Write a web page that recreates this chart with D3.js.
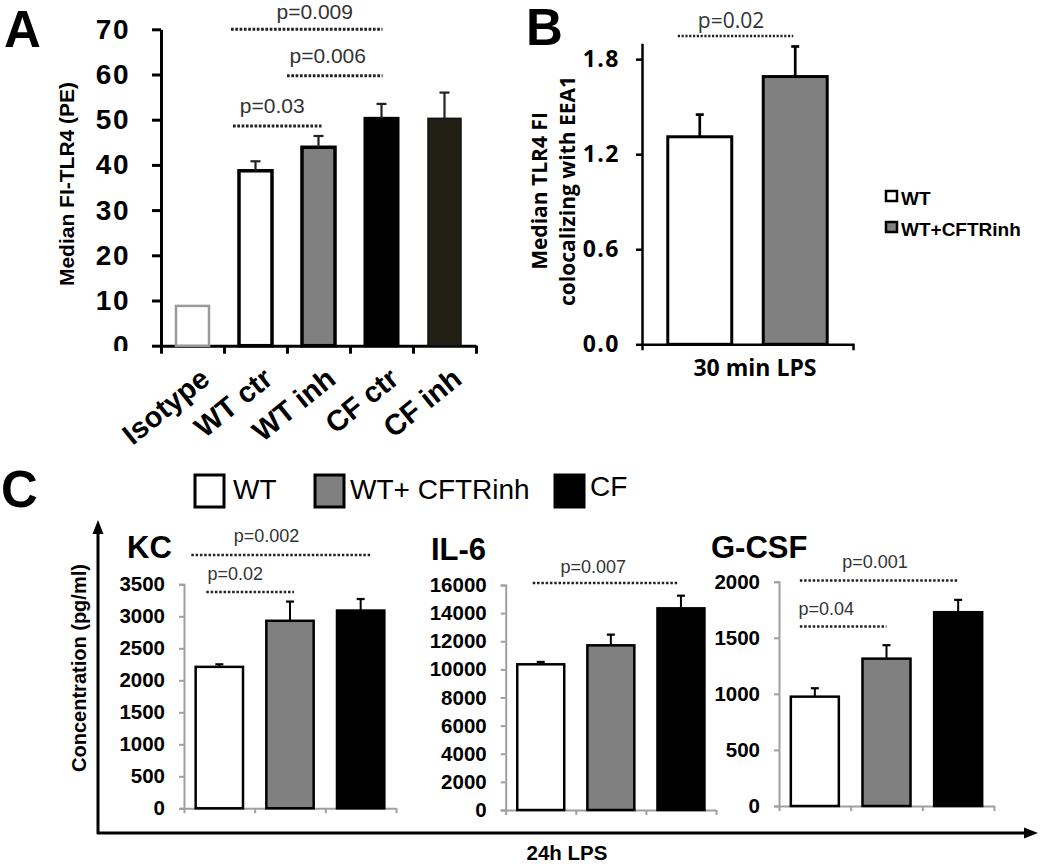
<!DOCTYPE html>
<html>
<head>
<meta charset="utf-8">
<script src="https://cdn.jsdelivr.net/npm/d3@7"></script>
<style>
body { margin: 0; background: #fff; }
svg { display: block; }
</style>
</head>
<body>
<svg id="fig" width="1050" height="867"></svg>
<script>
// ---- panel A : median FI-TLR4 ----
const aCategories = ["Isotype", "WT ctr", "WT inh", "CF ctr", "CF inh"];
const aValues = [8.8, 38.7, 43.9, 50.3, 50.3];
const aErrors = [0, 2.1, 2.5, 3.2, 5.7];
const aTicks = [0, 10, 20, 30, 40, 50, 60, 70];
const aSigLabels = ["p=0.009", "p=0.006", "p=0.03"];
const aSigPairs = [["WT ctr", "CF ctr"], ["WT inh", "CF ctr"], ["WT ctr", "WT inh"]];

// ---- panel B : TLR4 colocalizing with EEA1 ----
const bGroups = ["WT", "WT+CFTRinh"];
const bValues = [1.31, 1.69];
const bErrors = [0.14, 0.19];
const bTicks = [0, 0.6, 1.2, 1.8];

// ---- panel C : cytokines 24h LPS ----
const cGroups = ["WT", "WT+ CFTRinh", "CF"];
const cCytokines = ["KC", "IL-6", "G-CSF"];
const kcValues = [2210, 2930, 3090];
const kcErrors = [40, 300, 180];
const kcTicks = [0, 500, 1000, 1500, 2000, 2500, 3000, 3500];
const il6Values = [10360, 11710, 14340];
const il6Errors = [170, 760, 900];
const il6Ticks = [0, 2000, 4000, 6000, 8000, 10000, 12000, 14000, 16000];
const gcsfValues = [975, 1314, 1728];
const gcsfErrors = [75, 120, 110];
const gcsfTicks = [0, 500, 1000, 1500, 2000];
const kcSig = [{label: "p=0.002", pair: [0, 2]}, {label: "p=0.02", pair: [0, 1]}];
const il6Sig = [{label: "p=0.007", pair: [0, 2]}];
const gcsfSig = [{label: "p=0.001", pair: [0, 2]}, {label: "p=0.04", pair: [0, 1]}];

const ARIAL = "'Liberation Sans', Arial, sans-serif";
const OPEN = "'Open Sans', sans-serif";
const svg = d3.select("#fig");

function styleAxis(g, color, width, font, size, weight) {
    g.select(".domain").attr("stroke", color).attr("stroke-width", width);
    g.selectAll(".tick line").attr("stroke", color).attr("stroke-width", width);
    g.selectAll(".tick text").attr("fill", "#000").attr("font-family", font)
        .attr("font-size", size).attr("font-weight", weight);
}

function dotted(g, x0, x1, y, w, dash) {
    g.append("line").attr("x1", x0).attr("x2", x1).attr("y1", y).attr("y2", y)
        .attr("stroke", "#222").attr("stroke-width", w).attr("stroke-dasharray", dash);
}

function panelLetter(t, x, y) {
    svg.append("text").attr("x", x).attr("y", y).text(t)
        .attr("font-family", ARIAL).attr("font-weight", "bold").attr("font-size", 51);
}

// ================= A =================
const gA = svg.append("g");
const aX = d3.scaleBand().domain(aCategories).range([161, 476]).paddingInner(0.476).paddingOuter(0.238);
const aY = d3.scaleLinear().domain([0, 70]).range([345.7, 29.3]);
const aFill = ["#fff", "#fff", "#808080", "#000", "#221f14"];
const aStroke = ["#9a9a9a", "#000", "#000", "#000", "#111"];
const aStrokeW = [2.5, 3.5, 3.5, 3, 1.5];

// the "0" label is cut off by the baseline in the original
svg.append("clipPath").attr("id", "clipA").append("rect")
    .attr("x", -200).attr("y", 0).attr("width", 400).attr("height", 351);

gA.append("g").attr("transform", "translate(161,0)").attr("clip-path", "url(#clipA)")
    .call(d3.axisLeft(aY).tickValues(aTicks).tickSize(9).tickPadding(22).tickSizeOuter(0))
    .call(g => styleAxis(g, "#000", 3, ARIAL, 28, "bold"))
    .call(g => g.selectAll(".tick text").attr("letter-spacing", 1.5));

gA.append("g").attr("transform", "translate(0,345.7)")
    .call(d3.axisBottom(d3.scaleLinear().domain([0, 5]).range([161, 476]))
        .tickValues([0, 1, 2, 3, 4, 5]).tickSize(8).tickSizeOuter(0).tickFormat(""))
    .call(g => styleAxis(g, "#000", 3, ARIAL, 10, "normal"));

gA.selectAll("rect.bar").data(aValues).join("rect").attr("class", "bar")
    .attr("x", (d, i) => aX(aCategories[i]))
    .attr("y", d => aY(d))
    .attr("width", aX.bandwidth())
    .attr("height", d => aY(0) - aY(d))
    .attr("fill", (d, i) => aFill[i])
    .attr("stroke", (d, i) => aStroke[i])
    .attr("stroke-width", (d, i) => aStrokeW[i]);

aValues.forEach((v, i) => {
    if (!aErrors[i]) return;
    const cx = aX(aCategories[i]) + aX.bandwidth() / 2;
    gA.append("line").attr("x1", cx).attr("x2", cx)
        .attr("y1", aY(v)).attr("y2", aY(v + aErrors[i])).attr("stroke", "#222").attr("stroke-width", 2.2);
    gA.append("line").attr("x1", cx - 5).attr("x2", cx + 5)
        .attr("y1", aY(v + aErrors[i])).attr("y2", aY(v + aErrors[i])).attr("stroke", "#222").attr("stroke-width", 2.2);
});

// x labels, slanted
aCategories.forEach(c => {
    gA.append("text")
        .attr("transform", `translate(${aX(c) + aX.bandwidth() / 2 + 19},382) rotate(-39)`)
        .attr("text-anchor", "end").text(c)
        .attr("font-family", ARIAL).attr("font-weight", "bold").attr("font-size", 29);
});

gA.append("text").attr("transform", "translate(74,184) rotate(-90)")
    .attr("text-anchor", "middle").text("Median FI-TLR4 (PE)")
    .attr("font-family", ARIAL).attr("font-weight", "bold").attr("font-size", 21);

// significance bars (y level, start offset from bar left, end offset from bar centre, text shift)
const aSigLayout = [
    {level: 70, dx0: -8, dx1: 1, tdx: 8, tdy: -10},
    {level: 59.7, dx0: -15, dx1: 1, tdx: -7, tdy: -13},
    {level: 48.6, dx0: -6, dx1: 3, tdx: -5, tdy: -13}
];
aSigLabels.forEach((lab, i) => {
    const L = aSigLayout[i];
    const x0 = aX(aSigPairs[i][0]) + L.dx0;
    const x1 = aX(aSigPairs[i][1]) + aX.bandwidth() / 2 + L.dx1;
    const y = aY(L.level);
    dotted(gA, x0, x1, y, 3, "2.7,1.6");
    gA.append("text").attr("x", (x0 + x1) / 2 + L.tdx).attr("y", y + L.tdy)
        .attr("text-anchor", "middle").text(lab).attr("fill", "#333")
        .attr("font-family", ARIAL).attr("font-size", 21);
});
panelLetter("A", 4, 47);

// ================= B =================
const gB = svg.append("g");
const bX = d3.scaleBand().domain(bGroups).range([642, 853]).paddingInner(0.33).paddingOuter(0.27);
const bY = d3.scaleLinear().domain([0, 1.9]).range([344.3, 43.3]);
const bFill = ["#fff", "#808080"];

gB.append("g").attr("transform", "translate(642,0)")
    .call(d3.axisLeft(bY).tickValues(bTicks).tickFormat(d3.format(".1f")).tickSize(6).tickPadding(16).tickSizeOuter(0))
    .call(g => styleAxis(g, "#000", 2.5, OPEN, 23, "bold"))
    .call(g => g.selectAll(".tick text").attr("letter-spacing", 1.5));
gB.append("g").attr("transform", "translate(0,344.3)")
    .call(d3.axisBottom(bX).tickSize(0).tickSizeOuter(6).tickFormat(""))
    .call(g => styleAxis(g, "#000", 2.5, OPEN, 10, "normal"));

gB.selectAll("rect.bar").data(bValues).join("rect").attr("class", "bar")
    .attr("x", (d, i) => bX(bGroups[i]))
    .attr("y", d => bY(d))
    .attr("width", bX.bandwidth())
    .attr("height", d => bY(0) - bY(d))
    .attr("fill", (d, i) => bFill[i])
    .attr("stroke", "#000").attr("stroke-width", 3);

bValues.forEach((v, i) => {
    const cx = bX(bGroups[i]) + bX.bandwidth() / 2;
    gB.append("line").attr("x1", cx).attr("x2", cx)
        .attr("y1", bY(v)).attr("y2", bY(v + bErrors[i])).attr("stroke", "#000").attr("stroke-width", 2.7);
    gB.append("line").attr("x1", cx - 4).attr("x2", cx + 4)
        .attr("y1", bY(v + bErrors[i])).attr("y2", bY(v + bErrors[i])).attr("stroke", "#000").attr("stroke-width", 2.7);
});

gB.append("text").attr("x", 755).attr("y", 376).attr("text-anchor", "middle")
    .text("30 min LPS").attr("font-family", OPEN).attr("font-weight", "bold").attr("font-size", 23);

const bLabel = gB.append("text").attr("transform", "translate(0,191) rotate(-90)")
    .attr("text-anchor", "middle").attr("font-family", OPEN).attr("font-weight", "bold").attr("font-size", 21);
bLabel.append("tspan").attr("x", 0).attr("y", 547).text("Median TLR4 FI");
bLabel.append("tspan").attr("x", 0).attr("y", 575).text("colocalizing with EEA1");

{
    const x0 = bX(bGroups[0]) + 10, x1 = bX(bGroups[1]) + bX.bandwidth() / 2 - 2;
    dotted(gB, x0, x1, 36, 2.5, "2.2,1.6");
    gB.append("text").attr("x", 731).attr("y", 28).attr("text-anchor", "middle")
        .text("p=0.02").attr("fill", "#333").attr("font-family", OPEN).attr("font-size", 21);
}

// legend B
bGroups.forEach((g, i) => {
    gB.append("rect").attr("x", 886).attr("y", 191 + i * 31).attr("width", 11).attr("height", 10)
        .attr("fill", bFill[i]).attr("stroke", "#000").attr("stroke-width", 2.5);
    gB.append("text").attr("x", 901).attr("y", 205 + i * 31).text(g)
        .attr("font-family", ARIAL).attr("font-weight", "bold").attr("font-size", 19);
});
panelLetter("B", 526, 45);

// ================= C =================
const gC = svg.append("g");
const cFill = ["#fff", "#808080", "#000"];
const cPanels = [
    {name: cCytokines[0], values: kcValues, errors: kcErrors, ticks: kcTicks, sig: kcSig,
     xr: [184, 396], yr: [808.3, 584.3], titleX: 127, titleY: 558,
     sigLayout: [{level: 3958, dx0: -28, dx1: 11, tdx: -15, tdy: -13}, {level: 3380, dx0: -13, dx1: 4, tdx: -15, tdy: -12}]},
    {name: cCytokines[1], values: il6Values, errors: il6Errors, ticks: il6Ticks, sig: il6Sig,
     xr: [505.7, 716], yr: [810, 585], titleX: 431, titleY: 560,
     sigLayout: [{level: 16145, dx0: -8, dx1: -3, tdx: -12, tdy: -10}]},
    {name: cCytokines[2], values: gcsfValues, errors: gcsfErrors, ticks: gcsfTicks, sig: gcsfSig,
     xr: [779, 994], yr: [806, 581.7], titleX: 711, titleY: 558,
     sigLayout: [{level: 2010, dx0: -15, dx1: 0, tdx: -4, tdy: -12.7}, {level: 1600, dx0: -15, dx1: 0, tdx: -17, tdy: -11.7}]}
];

cPanels.forEach(p => {
    const g = gC.append("g");
    const x = d3.scaleBand().domain(cGroups).range(p.xr).paddingInner(0.33).paddingOuter(0.165);
    const y = d3.scaleLinear().domain([0, p.ticks[p.ticks.length - 1]]).range(p.yr);
    g.append("g").attr("transform", `translate(${p.xr[0]},0)`)
        .call(d3.axisLeft(y).tickValues(p.ticks).tickFormat(d3.format("d")).tickSize(5).tickPadding(14).tickSizeOuter(5))
        .call(a => styleAxis(a, "#a0a0a0", 2, ARIAL, 20.5, "bold"));
    g.append("g").attr("transform", `translate(0,${p.yr[0]})`)
        .call(d3.axisBottom(d3.scaleLinear().domain([0, 3]).range(p.xr))
            .tickValues([0, 1, 2, 3]).tickSize(5).tickSizeOuter(0).tickFormat(""))
        .call(a => styleAxis(a, "#a0a0a0", 2, ARIAL, 10, "normal"));

    g.selectAll("rect.bar").data(p.values).join("rect").attr("class", "bar")
        .attr("x", (d, i) => x(cGroups[i]))
        .attr("y", d => y(d))
        .attr("width", x.bandwidth())
        .attr("height", d => y(0) - y(d))
        .attr("fill", (d, i) => cFill[i])
        .attr("stroke", "#000").attr("stroke-width", 2.5);

    p.values.forEach((v, i) => {
        const cx = x(cGroups[i]) + x.bandwidth() / 2;
        g.append("line").attr("x1", cx).attr("x2", cx)
            .attr("y1", y(v)).attr("y2", y(v + p.errors[i])).attr("stroke", "#000").attr("stroke-width", 2);
        g.append("line").attr("x1", cx - 4).attr("x2", cx + 4)
            .attr("y1", y(v + p.errors[i])).attr("y2", y(v + p.errors[i])).attr("stroke", "#000").attr("stroke-width", 2.2);
    });

    g.append("text").attr("x", p.titleX).attr("y", p.titleY).text(p.name)
        .attr("font-family", ARIAL).attr("font-weight", "bold").attr("font-size", 31);

    p.sig.forEach((s, k) => {
        const L = p.sigLayout[k];
        const x0 = x(cGroups[s.pair[0]]) + x.bandwidth() / 2 + L.dx0;
        const x1 = x(cGroups[s.pair[1]]) + x.bandwidth() / 2 + L.dx1;
        const yy = y(L.level);
        dotted(g, x0, x1, yy, 2.5, "2.5,1.8");
        g.append("text").attr("x", (x0 + x1) / 2 + L.tdx).attr("y", yy + L.tdy)
            .attr("text-anchor", "middle").text(s.label).attr("fill", "#333")
            .attr("font-family", ARIAL).attr("font-size", 18);
    });
});

// outer arrows
gC.append("line").attr("x1", 98).attr("x2", 98).attr("y1", 834).attr("y2", 530)
    .attr("stroke", "#000").attr("stroke-width", 3);
gC.append("path").attr("d", "M98,520 L92.5,534 L103.5,534 Z").attr("fill", "#000");
gC.append("line").attr("x1", 97).attr("x2", 1027).attr("y1", 833).attr("y2", 833)
    .attr("stroke", "#000").attr("stroke-width", 3);
gC.append("path").attr("d", "M1038,833 L1024,827.5 L1024,838.5 Z").attr("fill", "#000");

gC.append("text").attr("transform", "translate(86,668) rotate(-90)").attr("text-anchor", "middle")
    .text("Concentration (pg/ml)").attr("font-family", ARIAL).attr("font-weight", "bold").attr("font-size", 20);
gC.append("text").attr("x", 567).attr("y", 860).attr("text-anchor", "middle")
    .text("24h LPS").attr("font-family", ARIAL).attr("font-weight", "bold").attr("font-size", 20.5);

// legend C
const cLegX = [195, 315, 555];
const cLegTextX = [233, 350, 590];
cGroups.forEach((g, i) => {
    gC.append("rect").attr("x", cLegX[i]).attr("y", 475).attr("width", 29).attr("height", 32)
        .attr("fill", cFill[i]).attr("stroke", "#000").attr("stroke-width", 3);
    gC.append("text").attr("x", cLegTextX[i]).attr("y", i === 2 ? 496 : 499).text(g)
        .attr("font-family", ARIAL).attr("font-size", 28);
});
panelLetter("C", 1, 507);
</script>
</body>
</html>
